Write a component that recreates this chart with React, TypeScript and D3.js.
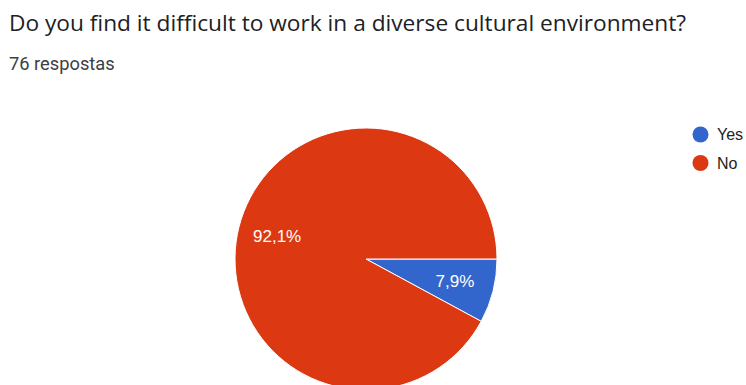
import React from "react";
import * as d3 from "d3";

const categories = ["Yes", "No"];
const counts = [6, 70];
const colors = ["#3366cc", "#dc3912"];
const labels = ["7,9%", "92,1%"];

export default function App() {
  const W = 746, H = 385;
  const cx = 366, cy = 259, r = 131;
  const pie = d3.pie<number>().sort(null).startAngle(Math.PI / 2).endAngle(Math.PI / 2 + 2 * Math.PI);
  const arcs = pie(counts);
  const arc = d3.arc<d3.PieArcDatum<number>>().innerRadius(0).outerRadius(r);
  const labelArc = d3.arc<d3.PieArcDatum<number>>().innerRadius(r * 0.7).outerRadius(r * 0.7);
  return (
    <svg width={W} height={H} style={{ position: "absolute", left: 0, top: 0, background: "#fff" }}>
      <text x={9} y={31} fontFamily="Open Sans" fontSize={22.7} fill="#202124">Do you find it difficult to work in a diverse cultural environment?</text>
      <text x={9} y={70} fontFamily="Roboto" fontSize={18.3} fill="#3c4043">76 respostas</text>
      <g transform={`translate(${cx},${cy})`}>
        {arcs.map((a, i) => (
          <path key={i} d={arc(a) || ""} fill={colors[i]} stroke="#fff" strokeWidth={1} />
        ))}
        {arcs.map((a, i) => {
          const [x, y] = labelArc.centroid(a);
          return (
            <text key={"l" + i} x={x} y={y} dy="0.35em" textAnchor="middle" fontFamily="Arial" fontSize={17} fill="#fff">{labels[i]}</text>
          );
        })}
      </g>
      {categories.map((c, i) => (
        <g key={c} transform={`translate(700.5,${134.5 + i * 28.5})`}>
          <circle r={8} fill={colors[i]} />
          <text x={16.5} y={0} dy="0.36em" fontFamily="Arial" fontSize={16} fill="#222">{c}</text>
        </g>
      ))}
    </svg>
  );
}
